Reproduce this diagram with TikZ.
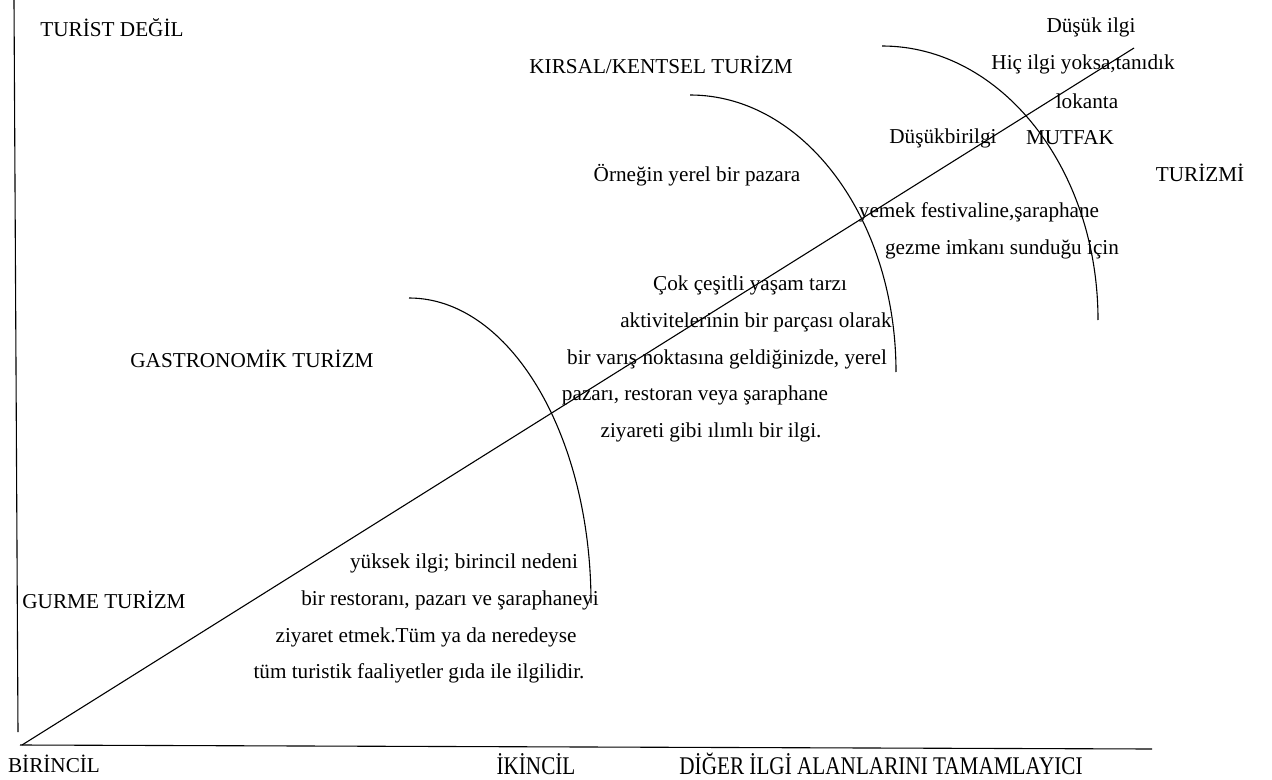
\documentclass[tikz,border=0pt]{standalone}
\usepackage{fontspec}
\setmainfont{Liberation Serif}
\usepackage{tikz}

\begin{document}
\begin{tikzpicture}[x=0.5pt, y=-0.5pt, line width=0.55pt,
    txt/.style={inner sep=0pt, font=\fontsize{10.6}{12}\selectfont},
    tall/.style={txt, yscale=1.2, transform shape}]
    \useasboundingbox (0,0) rectangle (1272,780);

    % Axes
    \coordinate (Otop) at (14,0);
    \coordinate (Obot) at (18,732);
    \coordinate (Xleft) at (20,745);
    \coordinate (Xright) at (1152,749);
    \draw (Otop) -- (Obot);
    \draw (Xleft) -- (Xright);

    % Diagonal
    \coordinate (Dstart) at (22,745);
    \coordinate (Dend) at (1134,48);
    \draw (Dstart) -- (Dend);

    % Arcs
    \coordinate (Aone) at (409,298);
    \coordinate (Atwo) at (690,95);
    \coordinate (Athree) at (882,46);
    \draw (Aone) arc[start angle=90, end angle=0, x radius=91pt, y radius=152.5pt];
    \draw (Atwo) arc[start angle=90, end angle=0, x radius=103pt, y radius=138.5pt];
    \draw (Athree) arc[start angle=90, end angle=0, x radius=108pt, y radius=137pt];

    % Axis labels
    \node[txt] (turistdegil) at (112,28) {TURİST DEĞİL};
    \node[txt] (birincil) at (54,764) {BİRİNCİL};
    \node[tall] (ikincil) at (536,764) {İKİNCİL};
    \node[tall] (diger) at (881,764) {DİĞER İLGİ ALANLARINI TAMAMLAYICI};

    % Zone names
    \node[txt] (gurme) at (104,600) {GURME TURİZM};
    \node[txt] (gastro) at (252,359) {GASTRONOMİK TURİZM};
    \node[txt] (kirsal) at (661,65) {KIRSAL/KENTSEL TURİZM};
    \node[txt] (mutfak) at (1070,138) {MUTFAK};
    \node[txt] (turizmi) at (1200,173) {TURİZMİ};

    % Gurme text
    \node[txt] (g1) at (464,563) {yüksek ilgi; birincil nedeni};
    \node[txt] (g2) at (450,600) {bir restoranı, pazarı ve şaraphaneyi};
    \node[txt] (g3) at (426,637) {ziyaret etmek.Tüm ya da neredeyse};
    \node[txt] (g4) at (419,673) {tüm turistik faaliyetler gıda ile ilgilidir.};

    % Gastronomik text
    \node[txt] (m1) at (750,285) {Çok çeşitli yaşam tarzı};
    \node[txt] (m2) at (756,322) {aktivitelerinin bir parçası olarak};
    \node[txt] (m3) at (727,359) {bir varış noktasına geldiğinizde, yerel};
    \node[txt] (m4) at (695,395) {pazarı, restoran veya şaraphane};
    \node[txt] (m5) at (711,432) {ziyareti gibi ılımlı bir ilgi.};

    % Kirsal text
    \node[txt] (k1) at (697,175) {Örneğin yerel bir pazara};
    \node[txt] (k2) at (979,212) {yemek festivaline,şaraphane};
    \node[txt] (k3) at (1002,249) {gezme imkanı sunduğu için};
    \node[txt] (k4) at (943,138) {Düşükbirilgi};

    % Mutfak text
    \node[txt] (d1) at (1091,27) {Düşük ilgi};
    \node[txt] (d2) at (1083,64) {Hiç ilgi yoksa,tanıdık};
    \node[txt] (d3) at (1087,101) {lokanta};
\end{tikzpicture}
\end{document}
